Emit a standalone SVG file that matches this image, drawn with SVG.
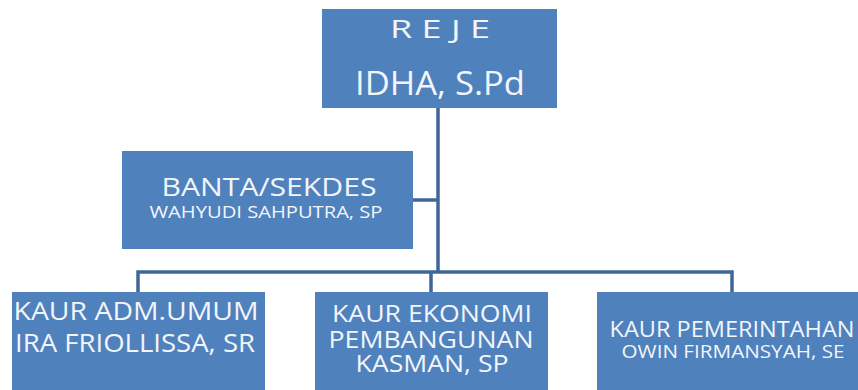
<svg xmlns="http://www.w3.org/2000/svg" width="858" height="390" viewBox="0 0 858 390">
<style>
.box{fill:#4F81BD;}
.conn{fill:none;stroke:#3F6696;stroke-width:3.5;}
text{font-family:"Open Sans","Liberation Sans",sans-serif;fill:#F2F5FA;text-anchor:middle;}
</style>
<rect width="858" height="390" fill="#FFFFFF"/>
<g id="connectors">
<path class="conn" d="M438,108 V272"/>
<path class="conn" d="M413,200 H438"/>
<path class="conn" d="M138,293 V272 H732 V293"/>
<path class="conn" d="M431,272 V293"/>
</g>
<g id="reje">
<rect class="box" x="322" y="9" width="235" height="99"/>
<text x="440" y="38" font-size="25" textLength="100" lengthAdjust="spacingAndGlyphs">R E J E</text>
<text x="440" y="95" font-size="32" textLength="170" lengthAdjust="spacingAndGlyphs">IDHA, S.Pd</text>
</g>
<g id="banta">
<rect class="box" x="122" y="151" width="291" height="98"/>
<text x="269" y="196" font-size="25" textLength="215" lengthAdjust="spacingAndGlyphs">BANTA/SEKDES</text>
<text x="266" y="218" font-size="17" textLength="233" lengthAdjust="spacingAndGlyphs">WAHYUDI SAHPUTRA, SP</text>
</g>
<g id="kaur-adm">
<rect class="box" x="12" y="292" width="253" height="98"/>
<text x="136" y="320" font-size="25" textLength="245" lengthAdjust="spacingAndGlyphs">KAUR ADM.UMUM</text>
<text x="135" y="352" font-size="25" textLength="240" lengthAdjust="spacingAndGlyphs">IRA FRIOLLISSA, SR</text>
</g>
<g id="kaur-ekonomi">
<rect class="box" x="315" y="292" width="233" height="98"/>
<text x="432" y="322" font-size="24" textLength="200" lengthAdjust="spacingAndGlyphs">KAUR EKONOMI</text>
<text x="431" y="348" font-size="24" textLength="205" lengthAdjust="spacingAndGlyphs">PEMBANGUNAN</text>
<text x="432" y="372" font-size="24" textLength="153" lengthAdjust="spacingAndGlyphs">KASMAN, SP</text>
</g>
<g id="kaur-pemerintahan">
<rect class="box" x="597" y="292" width="261" height="98"/>
<text x="732" y="337" font-size="21" textLength="245" lengthAdjust="spacingAndGlyphs">KAUR PEMERINTAHAN</text>
<text x="733" y="358" font-size="18" textLength="223" lengthAdjust="spacingAndGlyphs">OWIN FIRMANSYAH, SE</text>
</g>
</svg>
